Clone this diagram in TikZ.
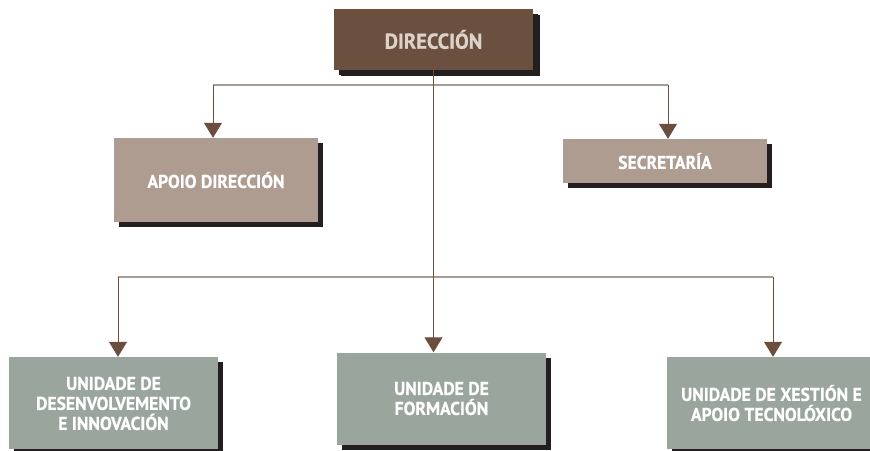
\documentclass[tikz,border=0pt]{standalone}
\usepackage{fontspec}
\setmainfont{PT Sans}[FakeStretch=0.95, BoldFeatures={FakeBold=0.6}]
\usepackage{xcolor}
\usepackage{tikz}
\usetikzlibrary{shapes,arrows.meta,positioning,shadows}

\definecolor{headbrown}{HTML}{6B5040}
\definecolor{headtext}{HTML}{DCD2CA}
\definecolor{staffbrown}{HTML}{AE9C90}
\definecolor{unitgrey}{HTML}{9AA59E}
\definecolor{shadowink}{HTML}{231F20}
\definecolor{railgrey}{HTML}{A99C93}
\definecolor{stembrown}{HTML}{6B4E3D}

\begin{document}
\begin{tikzpicture}[
    x=1pt, y=1pt,
    box/.style={rectangle, inner sep=0pt, align=center, font=\bfseries\fontsize{18.5}{20}\selectfont,
        text=white, drop shadow={shadow xshift=5pt, shadow yshift=-5pt, fill=shadowink, opacity=1}},
    head/.style={box, fill=headbrown, text=headtext, minimum width=199pt, minimum height=61pt,
        font=\bfseries\fontsize{21.6}{24}\selectfont,
        drop shadow={shadow xshift=7pt, shadow yshift=-6pt, fill=shadowink, opacity=1}},
    staff/.style={box, fill=staffbrown, minimum width=204pt},
    unit/.style={box, fill=unitgrey, minimum width=209pt, minimum height=92pt},
    rail/.style={draw=railgrey, line width=1.4pt},
    stem/.style={draw=stembrown, line width=1pt, -{Triangle[width=18pt,length=15pt]}}
]
    \useasboundingbox (0,0) rectangle (870,-450);

    % Direction
    \node[head] (dir) at (433.5,-39.5) {DIRECCIÓN};

    % Staff
    \node[staff, minimum height=84pt] (apoio) at (216,-180) {APOIO DIRECCIÓN};
    \node[staff, minimum height=44pt] (secr) at (665,-161) {SECRETARÍA};

    % Units
    \node[unit] (desenv) at (113.5,-403) {\\[-6pt]UNIDADE DE\\DESENVOLVEMENTO\\E INNOVACIÓN};
    \node[unit] (form) at (441.5,-398.5) {UNIDADE DE\\FORMACIÓN};
    \node[unit] (xest) at (771.5,-403) {UNIDADE DE XESTIÓN E\\APOIO TECNOLÓXICO};

    % Rails
    \coordinate (tl) at (213,-85);
    \coordinate (tr) at (668,-85);
    \coordinate (bl) at (118,-277);
    \coordinate (br) at (773,-277);
    \draw[rail] (tl) -- (tr);
    \draw[rail] (bl) -- (br);

    % Legs
    \draw[stem] (tl) -- (tl |- apoio.north);
    \draw[stem] (tr) -- (tr |- secr.north);
    \draw[stem] (bl) -- (bl |- desenv.north);
    \draw[stem] (br) -- (br |- xest.north);
    \draw[stem] (dir.south) -- (dir.south |- form.north);

\end{tikzpicture}
\end{document}
